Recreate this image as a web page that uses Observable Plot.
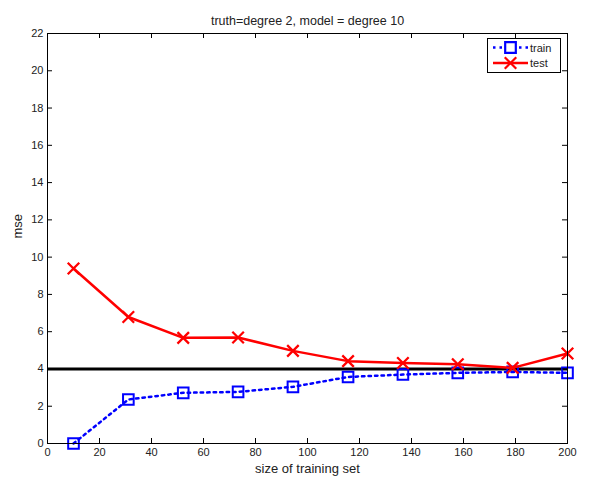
<!DOCTYPE html>
<html>
<head>
<meta charset="utf-8">
<script src="https://cdn.jsdelivr.net/npm/d3@7"></script>
<script src="https://cdn.jsdelivr.net/npm/@observablehq/plot@0.6"></script>
<style>
  html, body { margin: 0; padding: 0; background: #fff; }
  #wrap { position: relative; width: 590px; height: 484px; font-family: "Liberation Sans", Arial, sans-serif; }
  #legend { position: absolute; left: 487px; top: 38px; }
</style>
</head>
<body>
<div id="wrap"></div>
<script>
// ---- data ----
const trainSizes = [10, 31.1, 52.2, 73.3, 94.4, 115.6, 136.7, 157.8, 178.9, 200];
const trainMse   = [0.0, 2.36, 2.72, 2.77, 3.04, 3.57, 3.70, 3.79, 3.84, 3.79];
const testMse    = [9.39, 6.79, 5.67, 5.69, 4.97, 4.42, 4.32, 4.25, 4.06, 4.83];
const trueNoise  = [4];
const xTicks = [0, 20, 40, 60, 80, 100, 120, 140, 160, 180, 200];
const yTicks = [0, 2, 4, 6, 8, 10, 12, 14, 16, 18, 20, 22];
const seriesNames = ["train", "test"];
const titleText = "truth=degree 2, model = degree 10";
const xLabel = "size of training set";
const yLabel = "mse";

const train = trainSizes.map((x, i) => ({x, y: trainMse[i]}));
const test = trainSizes.map((x, i) => ({x, y: testMse[i]}));

const W = 590, H = 484;
const mL = 47, mR = 23, mT = 33, mB = 41;
const frameH = H - mT - mB;
const frameW = W - mL - mR;
const tick = 5;
const font = "Liberation Sans, Arial, sans-serif";

const chart = Plot.plot({
  width: W, height: H,
  marginLeft: mL, marginRight: mR, marginTop: mT, marginBottom: mB,
  style: {fontFamily: font, fontSize: "11px", color: "#222", background: "#fff"},
  x: {domain: [0, 200]},
  y: {domain: [0, 22]},
  marks: [
    Plot.ruleY(trueNoise, {stroke: "#000", strokeWidth: 3}),
    Plot.line(train, {x: "x", y: "y", stroke: "#0000ff", strokeWidth: 2.5, strokeDasharray: "2.5,4"}),
    Plot.dot(train, {x: "x", y: "y", symbol: "square", r: 6, stroke: "#0000ff", strokeWidth: 2, fill: "none"}),
    Plot.line(test, {x: "x", y: "y", stroke: "#ff0000", strokeWidth: 2.5}),
    Plot.dot(test, {x: "x", y: "y", symbol: "times", r: 5.3, stroke: "#ff0000", strokeWidth: 2.3}),
    // inward ticks on all four sides
    Plot.tickX(xTicks, {x: d => d, insetTop: frameH - tick, stroke: "#000", strokeWidth: 1}),
    Plot.tickX(xTicks, {x: d => d, insetBottom: frameH - tick, stroke: "#000", strokeWidth: 1}),
    Plot.tickY(yTicks, {y: d => d, insetRight: frameW - tick, stroke: "#000", strokeWidth: 1}),
    Plot.tickY(yTicks, {y: d => d, insetLeft: frameW - tick, stroke: "#000", strokeWidth: 1}),
    Plot.frame({stroke: "#000", strokeWidth: 1}),
    Plot.axisX({ticks: xTicks, tickSize: 0, tickPadding: 5, fontSize: 11, label: null}),
    Plot.axisY({ticks: yTicks, tickSize: 0, tickPadding: 4, fontSize: 11, label: null}),
    Plot.text([xLabel], {frameAnchor: "bottom", dy: 29, text: d => d, fontSize: 13, fill: "#222"}),
    Plot.text([yLabel], {frameAnchor: "left", dx: -30, rotate: -90, text: d => d, fontSize: 13, fill: "#222"}),
    Plot.text([titleText], {frameAnchor: "top", dy: -17, text: d => d, fontSize: 12.5, fill: "#222"})
  ]
});
document.getElementById("wrap").appendChild(chart);

// legend overlay
const lg = d3.select("#wrap").append("svg").attr("id", "legend")
  .attr("width", 75).attr("height", 36);
lg.append("rect").attr("x", 0.5).attr("y", 0.5).attr("width", 73).attr("height", 34)
  .attr("fill", "#fff").attr("stroke", "#000").attr("stroke-width", 1);
const rows = [
  {name: seriesNames[0], color: "#0000ff", dash: "2.5,4", sym: d3.symbolSquare, size: Math.PI * 36, y: 9.5},
  {name: seriesNames[1], color: "#ff0000", dash: null, sym: d3.symbolTimes, size: Math.PI * 28, y: 25}
];
rows.forEach(r => {
  lg.append("line").attr("x1", 6).attr("x2", 41).attr("y1", r.y).attr("y2", r.y)
    .attr("stroke", r.color).attr("stroke-width", 2.5).attr("stroke-dasharray", r.dash);
  lg.append("path").attr("transform", `translate(23.5,${r.y})`)
    .attr("d", d3.symbol(r.sym, r.size)())
    .attr("fill", r.sym === d3.symbolSquare ? "#fff" : "none")
    .attr("stroke", r.color).attr("stroke-width", 2.2);
  lg.append("text").attr("x", 43).attr("y", r.y + 4).text(r.name)
    .attr("font-family", font).attr("font-size", 11).attr("fill", "#222");
});
</script>
</body>
</html>
